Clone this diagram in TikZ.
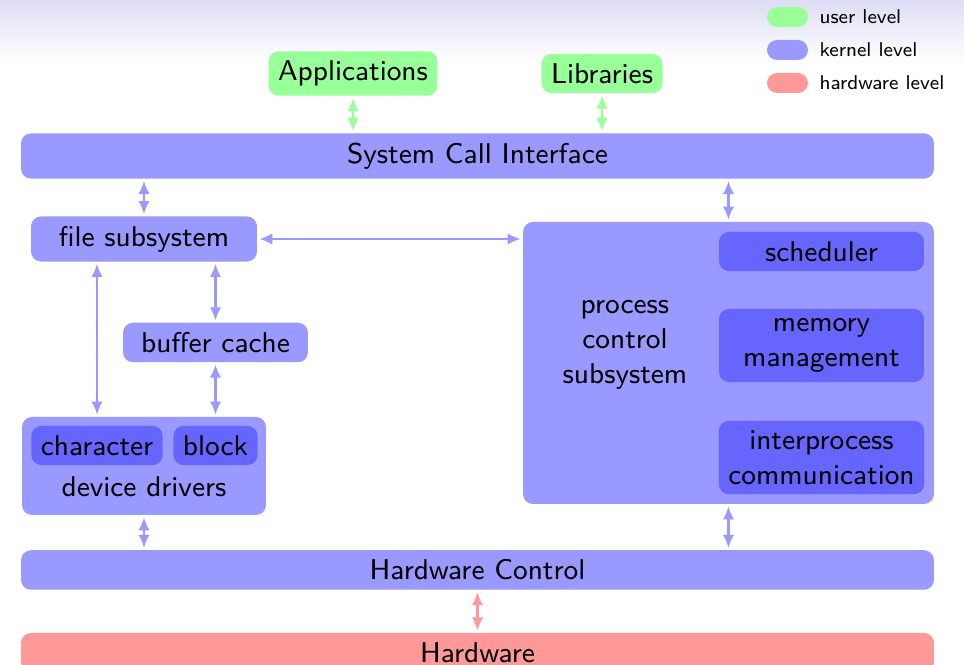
\documentclass[tikz,border=0pt]{standalone}
\usepackage{fontspec}
\newfontfamily\boxsf{lmsans9-regular.otf}
\newfontfamily\legsf{lmsans8-regular.otf}
\usetikzlibrary{arrows.meta}
\definecolor{headtop}{RGB}{221,221,244}
\begin{document}
\begin{tikzpicture}[x=0.35pt,y=-0.35pt,
  box/.style={rounded corners=3.5pt, font=\boxsf\fontsize{10}{12.3}\selectfont, inner sep=3.33pt},
  user/.style={box, fill=green!40},
  kern/.style={box, fill=blue!40},
  part/.style={box, fill=blue!60},
  hw/.style={box, fill=red!40},
  wide/.style={minimum width=319.55pt},
  lbl/.style={font=\boxsf\fontsize{10}{12.3}\selectfont, align=center, inner sep=3.33pt},
  link/.style={line width=0.8pt,
    {Latex[length=4.6pt,width=4pt]}-{Latex[length=4.6pt,width=4pt]},
    shorten <=0.6pt, shorten >=0.6pt},
  swatch/.style={minimum width=14.35pt, minimum height=7pt, inner sep=0pt, rounded corners=3.5pt},
  legtext/.style={font=\legsf\fontsize{7}{8.5}\selectfont, inner sep=0pt, anchor=west}]
\useasboundingbox (0,0) rectangle (964,665);
\clip (0,0) rectangle (964,665);
\fill[white] (0,0) rectangle (964,665);
\shade[top color=headtop, bottom color=white] (0,0) rectangle (964,62);

% legend
\node[swatch, fill=green!40] (lu) at (787.5,17) {};
\node[legtext] (lut) at (819,17) {user level};
\node[swatch, fill=blue!40] (lk) at (787.5,50) {};
\node[legtext] (lkt) at (819,50) {kernel level};
\node[swatch, fill=red!40] (lh) at (787.5,83) {};
\node[legtext] (lht) at (819,83) {hardware level};

% user level
\node[user] (apps) at (353,73.5) {Applications};
\node[user] (libs) at (602,73.5) {Libraries};

% kernel level
\node[kern, wide] (sci) at (477.5,156) {System Call Interface};
\node[kern, minimum width=79.1pt] (fs) at (144,239) {file subsystem};
\node[kern, minimum width=64.75pt] (bc) at (215.5,342.5) {buffer cache};

\node[kern, minimum width=85.4pt, minimum height=34.3pt] (dd) at (144,466) {};
\node[part] (chr) at (97,445.5) {character};
\node[part] (blk) at (215.5,445.5) {block};
\node[lbl] (ddl) at (144,487) {device drivers};

\node[kern, minimum width=143.85pt, minimum height=98.7pt] (pcs) at (728.5,363) {};
\node[lbl] (pcl) at (625,345) {process\\control\\subsystem};
\node[part, minimum width=71.75pt] (sch) at (821.5,251.5) {scheduler};
\node[part, minimum width=71.75pt, align=center] (mem) at (821.5,345.5) {memory\\management};
\node[part, minimum width=71.75pt, align=center] (ipc) at (821.5,457.5) {interprocess\\communication};

\node[kern, wide] (hc) at (477.5,570) {Hardware Control};

% hardware level
\node[hw, wide] (hwr) at (477.5,652.5) {Hardware};

% connectors
\draw[link, green!40] (apps.south) -- (apps.south |- sci.north);
\draw[link, green!40] (libs.south) -- (libs.south |- sci.north);
\draw[link, blue!40] (fs.north) -- (fs.north |- sci.south);
\draw[link, blue!40] (pcs.north) -- (pcs.north |- sci.south);
\draw[link, blue!40] (fs.east) -- (fs.east -| pcs.west);
\draw[link, blue!40] (bc.north) -- (bc.north |- fs.south);
\draw[link, blue!40] (bc.south) -- (bc.south |- dd.north);
\draw[link, blue!40] (chr.north |- fs.south) -- (chr.north |- dd.north);
\draw[link, blue!40] (dd.south) -- (dd.south |- hc.north);
\draw[link, blue!40] (pcs.south) -- (pcs.south |- hc.north);
\draw[link, red!40] (hc.south) -- (hc.south |- hwr.north);
\end{tikzpicture}
\end{document}
